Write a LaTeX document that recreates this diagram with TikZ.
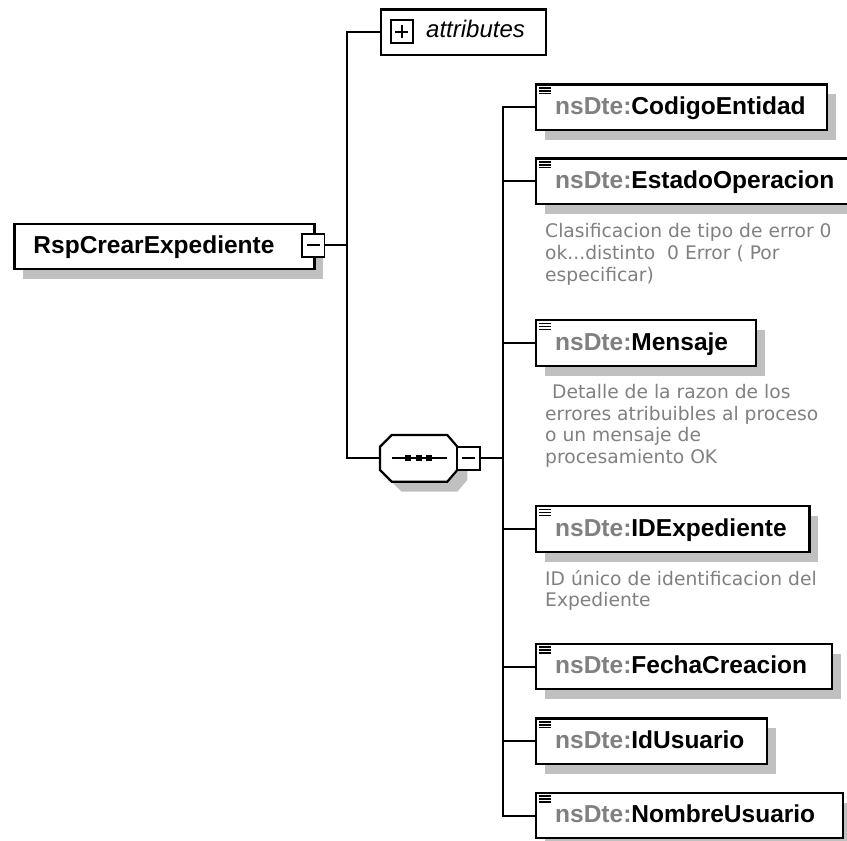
\documentclass[tikz,border=0pt]{standalone}
\usepackage{fontspec}
\setmainfont{Liberation Sans}
\newfontfamily\cmtfont{DejaVu Sans}
\usetikzlibrary{shadows}
\definecolor{shadowc}{HTML}{C0C0C0}
\definecolor{nsgray}{HTML}{808080}
\definecolor{cmtgray}{HTML}{808080}
\tikzset{
  conn/.style={line width=2pt, draw=black},
  boxline/.style={draw=black, line width=2.2pt, fill=white},
  shbox/.style={boxline, general shadow={fill=shadowc, shadow xshift=9pt, shadow yshift=-10pt}},
  elembox/.style={shbox, rectangle, inner sep=0pt, minimum height=45.5pt, anchor=north west},
  elemtext/.style={anchor=base west, inner sep=0pt, font=\fontsize{24.5}{28}\selectfont\bfseries},
  cmt/.style={anchor=base west, inner sep=0pt, text=cmtgray, font=\cmtfont\fontsize{18.7}{22}\selectfont},
  pmbox/.style={draw=black, line width=1.8pt, fill=white, rectangle, inner sep=0pt, minimum width=22.5pt, minimum height=23pt},
  pmline/.style={line width=2pt},
  iconline/.style={line width=1.6pt},
}
\newcommand\elemnode[4]{%
  \node[elembox, minimum width=#3pt] (#1) at (535,#2) {};
  \node[elemtext] (#1t) at ([xshift=20pt,yshift=-31pt]#1.north west) {\textcolor{nsgray}{nsDte:}#4};
  \foreach \k in {0,1,2}
    \draw[iconline] ([xshift=4pt,yshift={-4.5pt-2.9pt*\k}]#1.north west) -- ++(12pt,0);
}
\begin{document}
\begin{tikzpicture}[x=1pt,y=-1pt]
\useasboundingbox (0,0) rectangle (847,841);
\clip (0,0) rectangle (847,841);

% root element
\node[shbox, rectangle, inner sep=0pt, minimum width=300pt, minimum height=45.5pt, anchor=north west,
      general shadow={fill=shadowc, shadow xshift=9pt, shadow yshift=-9pt}] (root) at (13.3,222.7) {};
\node[elemtext] (roott) at ([xshift=20pt,yshift=-31pt]root.north west) {RspCrearExpediente};
\node[pmbox] (rootm) at (313.3,245.3) {};
\draw[pmline] ([xshift=-6.5pt]rootm.center) -- ([xshift=6.5pt]rootm.center);

% attributes
\node[boxline, rectangle, inner sep=0pt, minimum width=165pt, minimum height=45.7pt, anchor=north west] (attr) at (380,8.3) {};
\node[pmbox, minimum width=22pt] (attrp) at (401.7,31.5) {};
\draw[pmline] ([xshift=-6.5pt]attrp.center) -- ([xshift=6.5pt]attrp.center);
\draw[pmline] ([yshift=-6.5pt]attrp.center) -- ([yshift=6.5pt]attrp.center);
\node[anchor=base west, inner sep=0pt, font=\fontsize{24}{28}\selectfont\itshape] (attrt) at (426,37) {attributes};

% sequence compositor
\draw[boxline, general shadow={fill=shadowc, shadow xshift=10pt, shadow yshift=-10pt}]
  (391.7,435) -- (447.3,435) -- (457.3,446.7) -- (457.3,470) -- (447.3,481.7)
  -- (391.7,481.7) -- (380,470) -- (380,446.7) -- cycle;
\coordinate (seqw) at (380,458.3);
\draw[line width=1.8pt] (391.7,458.3) -- (446.7,458.3);
\foreach \dx in {408.3,418.7,429} \fill (\dx,458.3) +(-3,-3) rectangle +(3,3);
\node[pmbox, minimum width=22.7pt, minimum height=23.3pt] (seqm) at (468.7,458.3) {};
\draw[pmline] ([xshift=-6.5pt]seqm.center) -- ([xshift=6.5pt]seqm.center);

% child elements
\elemnode{e1}{83.3}{291}{CodigoEntidad}
\elemnode{e2}{157.3}{324}{EstadoOperacion}
\elemnode{e3}{319}{220}{Mensaje}
\elemnode{e4}{505}{273.3}{IDExpediente}
\elemnode{e5}{642.7}{295.7}{FechaCreacion}
\elemnode{e6}{717.3}{230.7}{IdUsuario}
\elemnode{e7}{791.7}{306.7}{NombreUsuario}

% comments
\node[cmt] (c2a) at (545,237.5) {Clasificacion de tipo de error 0};
\node[cmt] (c2b) at (545,259.5) {ok...distinto\ \ 0 Error ( Por};
\node[cmt] (c2c) at (545,281.5) {especificar)};
\node[cmt] (c3a) at (545,398.3) {\hspace*{7pt}Detalle de la razon de los};
\node[cmt] (c3b) at (545,420) {errores atribuibles al proceso};
\node[cmt] (c3c) at (545,441.7) {o un mensaje de};
\node[cmt] (c3d) at (545,463.4) {procesamiento OK};
\node[cmt] (c4a) at (545,585) {ID único de identificacion del};
\node[cmt] (c4b) at (545,606.7) {Expediente};

% connectors
\coordinate (b1) at (347,0);
\coordinate (b2) at (503,0);
\draw[conn] (rootm.east) -- (b1 |- rootm.east);
\draw[conn] (attr.west) -- (b1 |- attr.west) -- (b1 |- seqw) -- (seqw);
\draw[conn] (seqm.east) -- (b2 |- seqm.east);
\draw[conn] (e1.west) -- (b2 |- e1.west) -- (b2 |- e7.west) -- (e7.west);
\foreach \e in {e2,e3,e4,e5,e6} \draw[conn] (b2 |- \e.west) -- (\e.west);
\end{tikzpicture}
\end{document}
